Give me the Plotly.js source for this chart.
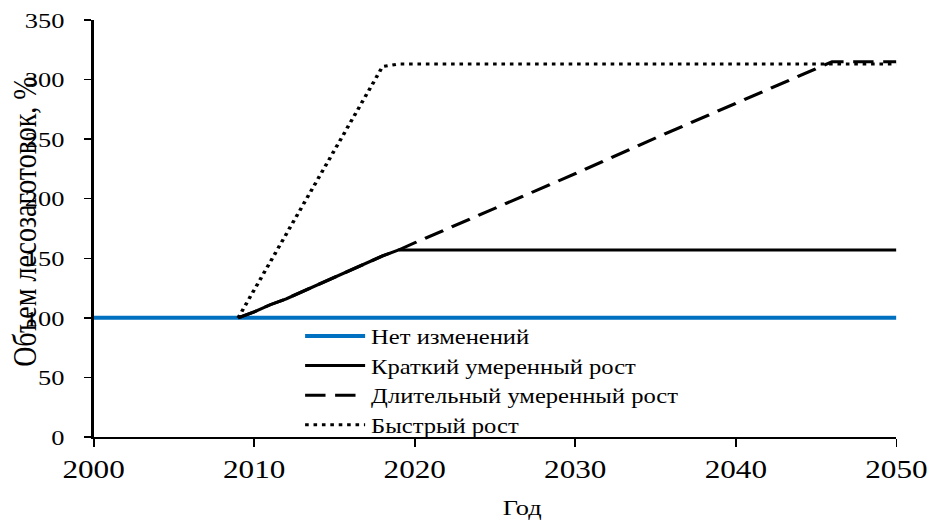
<!DOCTYPE html>
<html><head><meta charset="utf-8">
<script src="https://cdn.plot.ly/plotly-3.0.1.min.js"></script>
<style>
body{margin:0;background:#fff;overflow:hidden}
#wrap{width:931px;height:520px;overflow:hidden}
#chart{width:776px;height:520px;transform:scaleX(1.2);transform-origin:0 0}
</style>
</head><body><div id="wrap"><div id="chart"></div></div>
<script>
const seriesNames = ["Нет изменений","Краткий умеренный рост","Длительный умеренный рост","Быстрый рост"];
const yearsNone = [2000, 2050];
const valuesNone = [100, 100];
const yearsShort = [2009,2010,2011,2012,2013,2014,2015,2016,2017,2018,2019,2050];
const valuesShort = [100,105,111,116,122,128,134,140,146,152,157,157];
const yearsLong = [2009,2010,2011,2012,2013,2014,2015,2016,2017,2018,2019,2020,2025,2030,2035,2040,2046,2050];
const valuesLong = [100,105,111,116,122,128,134,140,146,152,157,163,192,221,251,280,315,315];
const yearsFast = [2009,2018,2019,2050];
const valuesFast = [100,311,313,313];
const xTicks = [2000,2010,2020,2030,2040,2050];
const yTicks = [0,50,100,150,200,250,300,350];
const xTitle = "Год";
const yTitle = "Объем лесозаготовок, %";

const FONT = "Liberation Serif";
const traces = [
  {x: yearsNone, y: valuesNone, name: seriesNames[0], mode: "lines", line: {color: "#0070C0", width: 4}},
  {x: yearsShort, y: valuesShort, name: seriesNames[1], mode: "lines", line: {color: "#000", width: 3}},
  {x: yearsLong, y: valuesLong, name: seriesNames[2], mode: "lines", line: {color: "#000", width: 3, dash: "17px,8px"}},
  {x: yearsFast, y: valuesFast, name: seriesNames[3], mode: "lines", line: {color: "#000", width: 3, dash: "3px,4px"}}
];
const layout = {
  width: 776, height: 520,
  margin: {l: 77.5, r: 28.5, t: 20, b: 83},
  paper_bgcolor: "#fff", plot_bgcolor: "#fff",
  font: {family: FONT, color: "#000", size: 21},
  showlegend: true,
  legend: {x: 0.256, y: 0.29, xanchor: "left", yanchor: "top", bgcolor: "rgba(0,0,0,0)",
           font: {family: FONT, size: 20.5, color: "#000"}, tracegroupgap: 0, itemwidth: 50},
  xaxis: {range: [2000, 2050], tickmode: "array", tickvals: xTicks, ticktext: xTicks.map(String), ticks: "outside", ticklen: 8, tickwidth: 1.5,
          tickcolor: "#000", showline: true, linecolor: "#000", linewidth: 2, showgrid: false, zeroline: false,
          tickfont: {family: FONT, size: 26, color: "#000"}, title: {text: ""}},
  yaxis: {range: [0, 350], tickmode: "array", tickvals: yTicks, ticktext: yTicks.map(String), ticks: "outside", ticklen: 6, tickwidth: 1.5,
          tickcolor: "#000", showline: true, linecolor: "#000", linewidth: 2, showgrid: false, zeroline: false,
          ticklabelstandoff: 12,
          tickfont: {family: FONT, size: 22, color: "#000"}, title: {text: ""}},
  annotations: [
    {text: yTitle, xref: "paper", yref: "paper", x: -0.085, y: 0.516, textangle: -90,
     showarrow: false, font: {family: FONT, size: 28, color: "#000"}, xanchor: "center", yanchor: "middle"},
    {text: xTitle, xref: "paper", yref: "paper", x: 0.534, y: -0.17,
     showarrow: false, font: {family: FONT, size: 22, color: "#000"}, xanchor: "center", yanchor: "middle"}
  ]
};
Plotly.newPlot("chart", traces, layout, {displayModeBar: false, staticPlot: true});
</script></body></html>
